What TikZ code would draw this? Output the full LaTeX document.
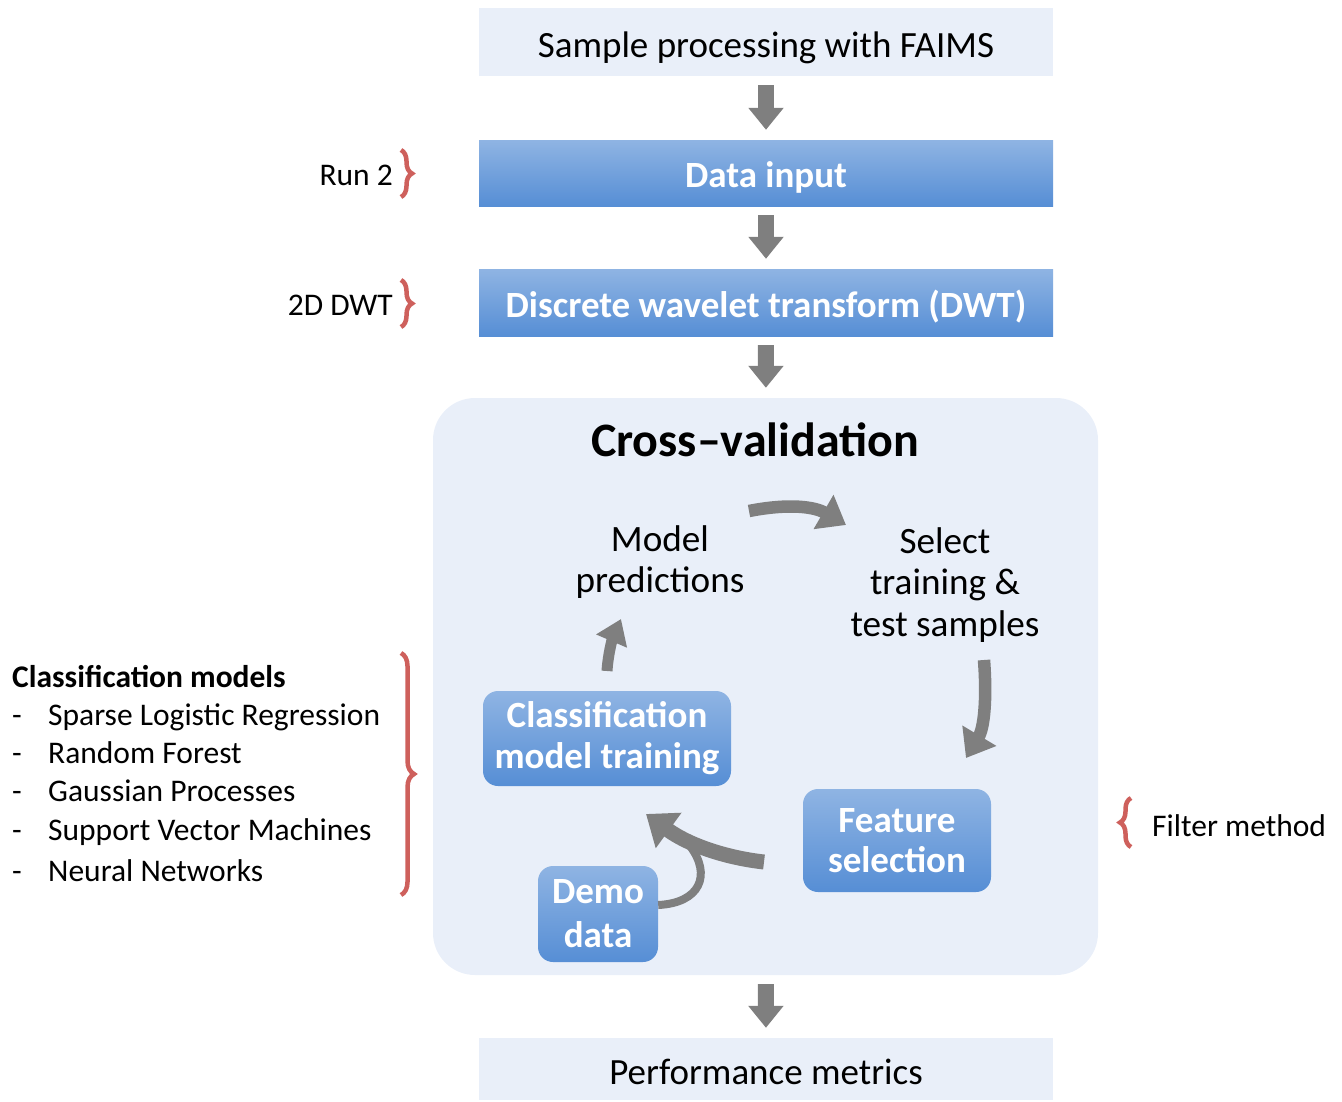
\documentclass[tikz,border=0pt]{standalone}
\usepackage{fontspec}
\setmainfont{Carlito}
\usetikzlibrary{arrows.meta,decorations.pathreplacing}
\definecolor{paleblue}{RGB}{233,239,249}
\definecolor{boxtop}{RGB}{143,180,227}
\definecolor{boxbot}{RGB}{86,142,213}
\definecolor{arrowgray}{RGB}{127,127,127}
\definecolor{bracered}{RGB}{206,96,92}
\tikzset{
  plainbox/.style={fill=paleblue, minimum width=574pt, inner sep=0pt,
    text height=30.5pt, text depth=0pt, font=\fontsize{37}{42}\selectfont},
  bluebox/.style={top color=boxtop, bottom color=boxbot, draw=none, inner sep=0pt,
    text=white, font=\fontsize{37}{41}\selectfont\bfseries, align=center},
  widebox/.style={bluebox, minimum width=574pt, text height=29pt, text depth=0pt},
  roundblue/.style={bluebox, rounded corners=15pt},
  bodytext/.style={font=\fontsize{37.2}{41.8}\selectfont, align=center, inner sep=0pt},
  sidetext/.style={font=\fontsize{31.5}{38}\selectfont, inner sep=0pt},
  blockarrow/.style={draw=arrowgray, line width=16pt,
    -{Triangle[length=22pt,width=34pt]}, shorten <=9pt, shorten >=10pt},
  curvearrow/.style={draw=arrowgray, line width=12.5pt,
    -{Triangle[length=26pt,width=38pt]}},
  bracemark/.style={draw=bracered, line width=4.5pt,
    decorate, decoration={brace, amplitude=11pt, aspect=0.5}},
}
\begin{document}
\begin{tikzpicture}[x=1pt,y=-1pt]
\useasboundingbox (0,0) rectangle (1342,1101);

% main column
\node[plainbox, minimum height=68pt] (faims) at (766,42) {Sample processing with FAIMS};
\node[widebox, minimum height=66pt] (input) at (766,173) {Data input};
\node[widebox, minimum height=67pt] (dwt) at (766,302.5) {Discrete wavelet transform (DWT)};

% cross-validation panel
\node[fill=paleblue, rounded corners=42pt, minimum width=665pt, minimum height=577pt, inner sep=0pt] (cv) at (765.5,686.5) {};
\node[font=\fontsize{48}{52}\selectfont\bfseries, inner sep=0pt] (cvtitle) at (755,440) {Cross--validation};

\node[plainbox, minimum height=62pt] (perf) at (766,1069) {Performance metrics};

\draw[blockarrow] (faims) -- (input);
\draw[blockarrow] (input) -- (dwt);
\draw[blockarrow] (dwt) -- (cv);
\draw[blockarrow] (cv) -- (perf);

% loop inside the panel
\node[bodytext] (pred) at (660,562) {Model\\predictions};
\node[bodytext] (select) at (945,585) {Select\\training \&\\test samples};
\node[roundblue, minimum width=248pt, minimum height=95pt] (train) at (607,738.5) {Classification\\[0pt]model training};
\node[roundblue, minimum width=188pt, minimum height=103pt] (feat) at (897,840.5) {Feature\\[-1pt]selection};
\node[roundblue, minimum width=120pt, minimum height=96pt] (demo) at (598,914) {Demo\\[3pt]data};

\coordinate (topS) at (749,511);
\coordinate (topE) at (846,525);
\coordinate (rightS) at (984,660);
\coordinate (rightE) at (966,758);
\coordinate (upS) at (607,671);
\coordinate (upE) at (621,619);
\coordinate (featS) at (764,862);
\coordinate (featE) at (646,814);
\coordinate (merge) at (690,846);

\draw[curvearrow] (topS) .. controls (790,503) and (815,507) .. (topE);
\draw[curvearrow] (rightS) .. controls (987,700) and (984,728) .. (rightE);
\draw[curvearrow, line width=11pt, -{Triangle[length=24pt,width=32pt]}] (upS) .. controls (608,655) and (612,640) .. (upE);
\draw[draw=arrowgray, line width=8pt] (demo.east |- 0,905) .. controls (700,903) and (712,875) .. (merge);
\draw[curvearrow, line width=15pt, -{Triangle[length=28pt,width=42pt]}] (featS) .. controls (728,858) and (690,846) .. (featE);

% side annotations
\node[sidetext, anchor=base east] (run) at (393,185) {Run 2};
\coordinate (runA) at (401,150);
\coordinate (runB) at (401,197);
\draw[bracemark] (runA) -- (runB);

\node[sidetext, anchor=base east] (wav) at (393,315) {2D DWT};
\coordinate (wavA) at (401,280);
\coordinate (wavB) at (401,327);
\draw[bracemark] (wavA) -- (wavB);

\node[sidetext, anchor=base west, font=\fontsize{31.5}{38}\selectfont\bfseries] (cmtitle) at (12,687) {Classification models};
\foreach \y/\t [count=\i] in {725/Sparse Logistic Regression, 763/Random Forest, 801/Gaussian Processes, 840/Support Vector Machines, 881/Neural Networks}{
  \node[sidetext, anchor=base west] (dash\i) at (12,\y) {-};
  \node[sidetext, anchor=base west] (item\i) at (48,\y) {\t};
}
\coordinate (cmA) at (401,653);
\coordinate (cmB) at (401,895);
\draw[bracemark, decoration={brace, amplitude=13pt, aspect=0.5}] (cmA) -- (cmB);

\coordinate (fmA) at (1131,847);
\coordinate (fmB) at (1131,798);
\draw[bracemark] (fmA) -- (fmB);
\node[sidetext, anchor=base west] (filt) at (1152,836) {Filter method};
\end{tikzpicture}
\end{document}
